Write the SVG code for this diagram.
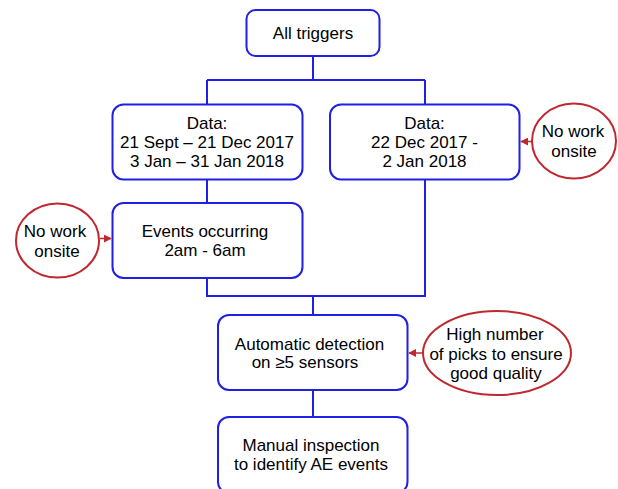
<svg xmlns="http://www.w3.org/2000/svg" width="618" height="489" viewBox="0 0 618 489">
<defs>
<style>
.box{fill:#fff;stroke:#1f1fe6;stroke-width:2}
.note{fill:#fff;stroke:#c0282f;stroke-width:2}
.conn{fill:none;stroke:#1f1fe6;stroke-width:2}
.arr{fill:none;stroke:#c0282f;stroke-width:1.5}
text{font-family:"Liberation Sans",Arial,sans-serif;font-size:17px;fill:#000;text-anchor:middle}
</style>
<marker id="ah" viewBox="0 0 10 10" refX="9" refY="5" markerWidth="8" markerHeight="8" markerUnits="userSpaceOnUse" orient="auto">
<path d="M0,0 L10,5 L0,10 z" fill="#c0282f"/>
</marker>
</defs>
<rect width="618" height="489" fill="#fff"/>
<g id="connectors">
<path class="conn" d="M313,56 V80 M207,80 H425 M207,80 V104 M425,80 V104"/>
<path class="conn" d="M207,179 V203"/>
<path class="conn" d="M207,278 V296 H425 V179 M313,296 V315"/>
<path class="conn" d="M313,390 V417"/>
<path class="arr" d="M532,141.5 H521" marker-end="url(#ah)"/>
<path class="arr" d="M100,238.5 H111" marker-end="url(#ah)"/>
<path class="arr" d="M423,353 H409" marker-end="url(#ah)"/>
</g>
<g id="all-triggers">
<rect class="box" x="246.5" y="10" width="133" height="46" rx="9"/>
<text x="313" y="39">All triggers</text>
</g>
<g id="data-left">
<rect class="box" x="112.5" y="104.5" width="190" height="75" rx="11"/>
<text x="207" y="129">Data:</text>
<text x="207" y="148">21 Sept – 21 Dec 2017</text>
<text x="207" y="167">3 Jan – 31 Jan 2018</text>
</g>
<g id="data-right">
<rect class="box" x="330" y="104.5" width="189.5" height="75" rx="11"/>
<text x="424.5" y="129">Data:</text>
<text x="424.5" y="148">22 Dec 2017 -</text>
<text x="424.5" y="167">2 Jan 2018</text>
</g>
<g id="no-work-right">
<ellipse class="note" cx="574" cy="141" rx="42" ry="37.5"/>
<text x="573" y="137">No work</text>
<text x="574" y="157">onsite</text>
</g>
<g id="events">
<rect class="box" x="112.5" y="203" width="190" height="75" rx="11"/>
<text x="205" y="237">Events occurring</text>
<text x="205" y="256">2am - 6am</text>
</g>
<g id="no-work-left">
<ellipse class="note" cx="57.5" cy="240.5" rx="41.5" ry="37"/>
<text x="55" y="237">No work</text>
<text x="57" y="256.5">onsite</text>
</g>
<g id="automatic-detection">
<rect class="box" x="218" y="315" width="189.5" height="75" rx="11"/>
<text x="309.5" y="349.5">Automatic detection</text>
<text x="305" y="368">on ≥5 sensors</text>
</g>
<g id="high-number">
<ellipse class="note" cx="497" cy="353" rx="74" ry="42"/>
<text x="495" y="340">High number</text>
<text x="496" y="359.5">of picks to ensure</text>
<text x="496" y="379">good quality</text>
</g>
<g id="manual-inspection">
<rect class="box" x="218" y="417" width="189.5" height="76" rx="11"/>
<text x="311" y="450.5">Manual inspection</text>
<text x="311" y="469.5">to identify AE events</text>
</g>
</svg>
